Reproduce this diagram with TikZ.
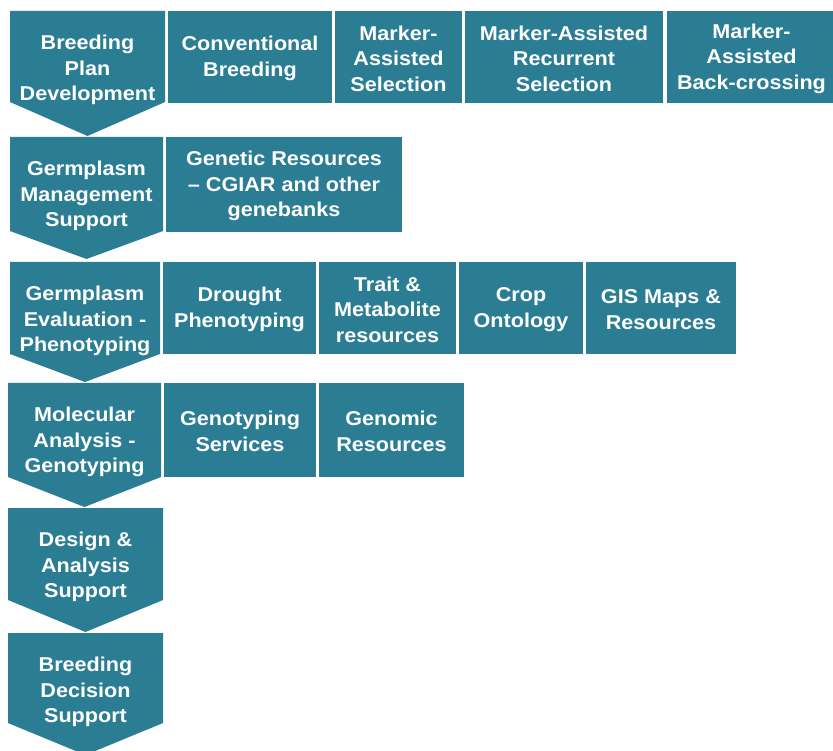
\documentclass[tikz,border=0pt]{standalone}
\usepackage{fontspec}
\newfontfamily\lblfont{Liberation Sans}[FakeStretch=1.08]
\definecolor{tealbox}{RGB}{43,125,148}
\tikzset{
  lbl/.style={text=white, align=center, font=\lblfont\bfseries\fontsize{20}{25.5}\selectfont, inner sep=0pt},
  chevfill/.style={fill=tealbox, draw=none},
}
% \chevron{name}{x1}{x2}{top}{bot}{tip}{text}
\newcommand\chevron[7]{%
  \path[chevfill] (#2,#4) -- (#3,#4) -- (#3,#5) -- ({(#2+#3)/2},#6) -- (#2,#5) -- cycle;
  \node[lbl] (#1) at ({(#2+#3)/2},{#4+59}) {#7};
}
% \tbox{name}{x1}{x2}{top}{bot}{text}
\newcommand\tbox[6]{%
  \path[chevfill] (#2,#4) rectangle (#3,#5);
  \node[lbl] (#1) at ({(#2+#3)/2},{(#4+#5)/2+1.5}) {#6};
}
\begin{document}
\begin{tikzpicture}[x=1pt,y=-1pt]
\useasboundingbox (0,0) rectangle (833,751);
\fill[white] (0,0) rectangle (833,751);
\begin{scope}
\clip (0,0) rectangle (833,751);
% Row 1
\chevron{bpd}{10}{165}{11}{102}{136}{Breeding\\Plan\\Development}
\tbox{cb}{168}{332}{11}{103}{Conventional\\Breeding}
\tbox{mas}{335}{462}{11}{103}{Marker-\\Assisted\\Selection}
\tbox{mars}{465}{663}{11}{103}{Marker-Assisted\\Recurrent\\Selection}
\tbox{mab}{667}{836}{11}{103}{Marker-\\Assisted\\Back-crossing}
% Row 2
\chevron{gms}{10}{163}{137}{231}{259}{Germplasm\\Management\\Support}
\tbox{gr}{166}{402}{137}{232}{Genetic Resources\\– CGIAR and other\\genebanks}
% Row 3
\chevron{gep}{10}{160}{262}{354}{382}{Germplasm\\Evaluation -\\Phenotyping}
\tbox{dp}{163}{316}{262}{354}{Drought\\Phenotyping}
\tbox{tm}{319}{456}{262}{354}{Trait \&\\Metabolite\\resources}
\tbox{co}{459}{583}{262}{354}{Crop\\Ontology}
\tbox{gis}{586}{736}{262}{354}{GIS Maps \&\\Resources}
% Row 4
\chevron{mag}{8}{161}{383}{477}{507}{Molecular\\Analysis -\\Genotyping}
\tbox{gs}{164}{316}{383}{477}{Genotyping\\Services}
\tbox{gres}{319}{464}{383}{477}{Genomic\\Resources}
% Row 5
\chevron{das}{8}{163}{508}{600}{632}{Design \&\\Analysis\\Support}
% Row 6
\chevron{bds}{8}{163}{633}{723}{755}{Breeding\\Decision\\Support}
\end{scope}
\end{tikzpicture}
\end{document}
